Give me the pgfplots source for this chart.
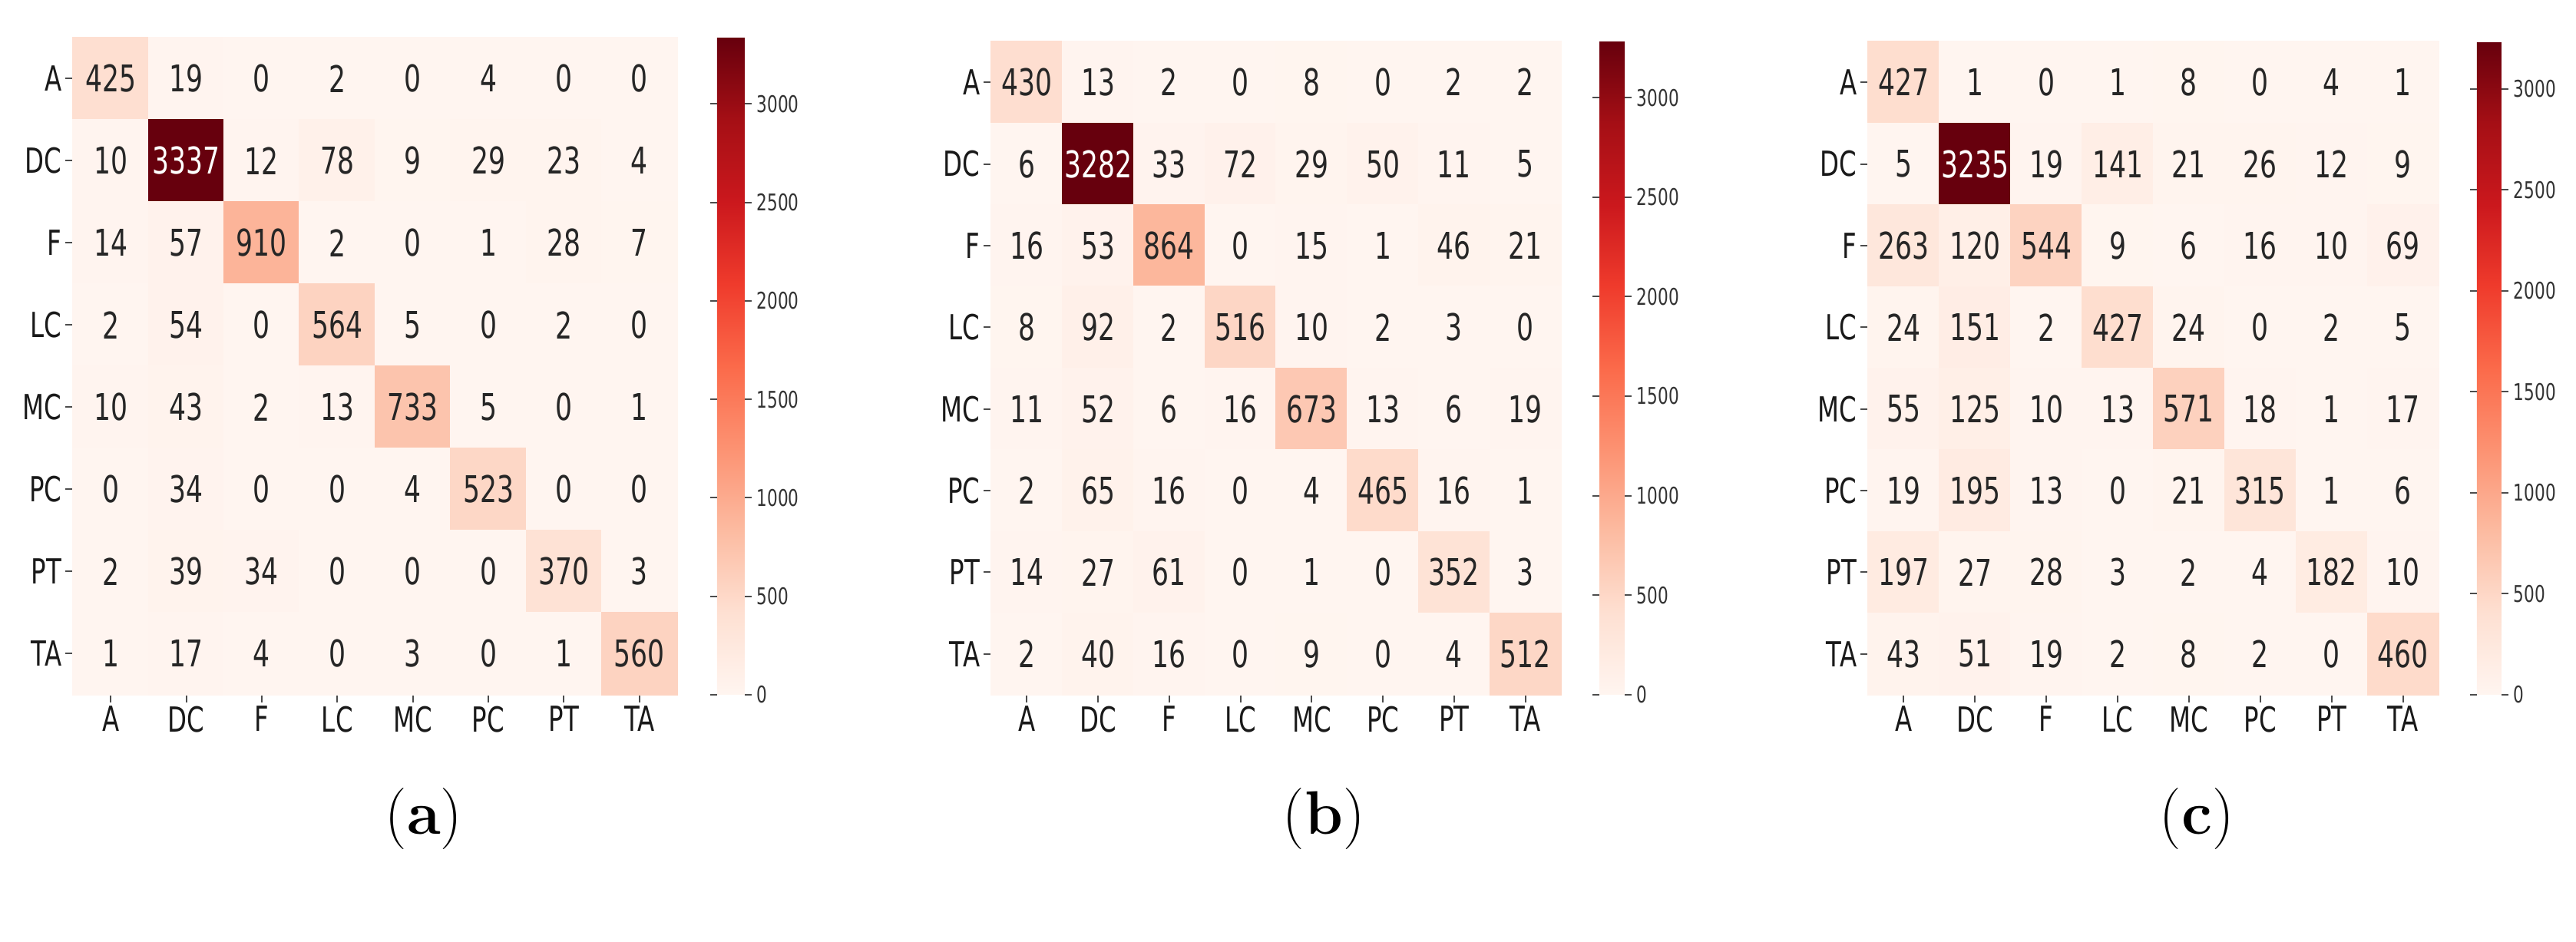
\documentclass[border=0pt]{standalone}
\usepackage{fontspec}
\newfontfamily\dv{DejaVu Sans}[FakeStretch=0.72]
\usepackage{pgfplots}
\usepackage{pgfplotstable}
\pgfplotsset{compat=1.18}

% confusion matrices: x = predicted, y = true, c = count
\pgfplotstableread[row sep=\\]{
x y c\\
0 0 425\\ 1 0 19\\ 2 0 0\\ 3 0 2\\ 4 0 0\\ 5 0 4\\ 6 0 0\\ 7 0 0\\
0 1 10\\ 1 1 3337\\ 2 1 12\\ 3 1 78\\ 4 1 9\\ 5 1 29\\ 6 1 23\\ 7 1 4\\
0 2 14\\ 1 2 57\\ 2 2 910\\ 3 2 2\\ 4 2 0\\ 5 2 1\\ 6 2 28\\ 7 2 7\\
0 3 2\\ 1 3 54\\ 2 3 0\\ 3 3 564\\ 4 3 5\\ 5 3 0\\ 6 3 2\\ 7 3 0\\
0 4 10\\ 1 4 43\\ 2 4 2\\ 3 4 13\\ 4 4 733\\ 5 4 5\\ 6 4 0\\ 7 4 1\\
0 5 0\\ 1 5 34\\ 2 5 0\\ 3 5 0\\ 4 5 4\\ 5 5 523\\ 6 5 0\\ 7 5 0\\
0 6 2\\ 1 6 39\\ 2 6 34\\ 3 6 0\\ 4 6 0\\ 5 6 0\\ 6 6 370\\ 7 6 3\\
0 7 1\\ 1 7 17\\ 2 7 4\\ 3 7 0\\ 4 7 3\\ 5 7 0\\ 6 7 1\\ 7 7 560\\
}\tabA

\pgfplotstableread[row sep=\\]{
x y c\\
0 0 430\\ 1 0 13\\ 2 0 2\\ 3 0 0\\ 4 0 8\\ 5 0 0\\ 6 0 2\\ 7 0 2\\
0 1 6\\ 1 1 3282\\ 2 1 33\\ 3 1 72\\ 4 1 29\\ 5 1 50\\ 6 1 11\\ 7 1 5\\
0 2 16\\ 1 2 53\\ 2 2 864\\ 3 2 0\\ 4 2 15\\ 5 2 1\\ 6 2 46\\ 7 2 21\\
0 3 8\\ 1 3 92\\ 2 3 2\\ 3 3 516\\ 4 3 10\\ 5 3 2\\ 6 3 3\\ 7 3 0\\
0 4 11\\ 1 4 52\\ 2 4 6\\ 3 4 16\\ 4 4 673\\ 5 4 13\\ 6 4 6\\ 7 4 19\\
0 5 2\\ 1 5 65\\ 2 5 16\\ 3 5 0\\ 4 5 4\\ 5 5 465\\ 6 5 16\\ 7 5 1\\
0 6 14\\ 1 6 27\\ 2 6 61\\ 3 6 0\\ 4 6 1\\ 5 6 0\\ 6 6 352\\ 7 6 3\\
0 7 2\\ 1 7 40\\ 2 7 16\\ 3 7 0\\ 4 7 9\\ 5 7 0\\ 6 7 4\\ 7 7 512\\
}\tabB

\pgfplotstableread[row sep=\\]{
x y c\\
0 0 427\\ 1 0 1\\ 2 0 0\\ 3 0 1\\ 4 0 8\\ 5 0 0\\ 6 0 4\\ 7 0 1\\
0 1 5\\ 1 1 3235\\ 2 1 19\\ 3 1 141\\ 4 1 21\\ 5 1 26\\ 6 1 12\\ 7 1 9\\
0 2 263\\ 1 2 120\\ 2 2 544\\ 3 2 9\\ 4 2 6\\ 5 2 16\\ 6 2 10\\ 7 2 69\\
0 3 24\\ 1 3 151\\ 2 3 2\\ 3 3 427\\ 4 3 24\\ 5 3 0\\ 6 3 2\\ 7 3 5\\
0 4 55\\ 1 4 125\\ 2 4 10\\ 3 4 13\\ 4 4 571\\ 5 4 18\\ 6 4 1\\ 7 4 17\\
0 5 19\\ 1 5 195\\ 2 5 13\\ 3 5 0\\ 4 5 21\\ 5 5 315\\ 6 5 1\\ 7 5 6\\
0 6 197\\ 1 6 27\\ 2 6 28\\ 3 6 3\\ 4 6 2\\ 5 6 4\\ 6 6 182\\ 7 6 10\\
0 7 43\\ 1 7 51\\ 2 7 19\\ 3 7 2\\ 4 7 8\\ 5 7 2\\ 6 7 0\\ 7 7 460\\
}\tabC

\pgfplotsset{
  cm/.style={
    scale only axis, anchor=north west,
    enlargelimits=false,
    xmin=-0.5, xmax=7.5, ymin=-0.5, ymax=7.5,
    y dir=reverse,
    xtick={0,...,7}, ytick={0,...,7},
    xticklabels={A,DC,F,LC,MC,PC,PT,TA},
    yticklabels={A,DC,F,LC,MC,PC,PT,TA},
    xtick pos=bottom, ytick pos=left, tick align=outside,
    major tick length=2.5pt,
    tick style={line width=0.5pt, black!70},
    axis line style={draw=none},
    ticklabel style={font=\dv\fontsize{11.25}{13}\selectfont, text=black!90, inner sep=1pt},
    colormap={reds}{rgb255=(255,245,240) rgb255=(254,224,210) rgb255=(252,187,161)
      rgb255=(252,146,114) rgb255=(251,106,74) rgb255=(239,59,44)
      rgb255=(203,24,29) rgb255=(165,15,21) rgb255=(103,0,13)},
    point meta min=0,
    colorbar,
    colorbar shift/.style={},
    colorbar style={
      at={(parent axis.north east)}, anchor=north west,
      axis line style={draw=none},
      tick align=outside, yticklabel pos=right,
      major tick length=2.25pt,
      tick style={line width=0.5pt, black!70},
      ytick={0,500,...,3000},
      yticklabels={0,500,1000,1500,2000,2500,3000},
      yticklabel style={font=\dv\fontsize{7.5}{9}\selectfont, text=black!80, inner sep=1.5pt},
    },
  },
  cmcells/.style={scatter, only marks, mark=square*, point meta=\thisrow{c},
    scatter/use mapped color={draw=mapped color, fill=mapped color},
    every mark/.append style={line width=0.3pt}},
  cmnums/.style={draw=none, mark=none, point meta=\thisrow{c},
    nodes near coords={\pgfmathfloattoint{\pgfplotspointmeta}\let\cval\pgfmathresult
      \ifnum\cval>2000 \color{white}\fi\cval},
    every node near coord/.append style={anchor=center, inner sep=0pt,
      font=\dv\fontsize{12}{14}\selectfont, text=black!85}},
}

\begin{document}
\begin{tikzpicture}
\useasboundingbox (0,0) rectangle (838.75pt,-306.75pt);

\begin{axis}[cm, at={(23.75pt,-12.25pt)}, width=196.75pt, height=214pt,
  point meta max=3337, colorbar style={xshift=13pt, width=9pt}]
  \addplot[cmcells, mark size=12.3pt, every mark/.append style={yscale=1.0877}]
    table[x=x, y=y] {\tabA};
  \addplot[cmnums] table[x=x, y=y] {\tabA};
\end{axis}

\begin{axis}[cm, at={(322.75pt,-13.5pt)}, width=185.5pt, height=212.75pt,
  point meta max=3282, colorbar style={xshift=12.5pt, width=8.25pt}]
  \addplot[cmcells, mark size=11.6pt, every mark/.append style={yscale=1.1469}]
    table[x=x, y=y] {\tabB};
  \addplot[cmnums] table[x=x, y=y] {\tabB};
\end{axis}

\begin{axis}[cm, at={(608.25pt,-13.5pt)}, width=185.75pt, height=212.75pt,
  point meta max=3235, colorbar style={xshift=12.5pt, width=8pt}]
  \addplot[cmcells, mark size=11.61pt, every mark/.append style={yscale=1.1454}]
    table[x=x, y=y] {\tabC};
  \addplot[cmnums] table[x=x, y=y] {\tabC};
\end{axis}

\node[anchor=base, font=\fontsize{20}{24}\selectfont] at (138pt,-271.75pt) {(\textbf{a})};
\node[anchor=base, font=\fontsize{20}{24}\selectfont] at (431pt,-271.75pt) {(\textbf{b})};
\node[anchor=base, font=\fontsize{20}{24}\selectfont] at (715.25pt,-271.75pt) {(\textbf{c})};
\end{tikzpicture}
\end{document}
